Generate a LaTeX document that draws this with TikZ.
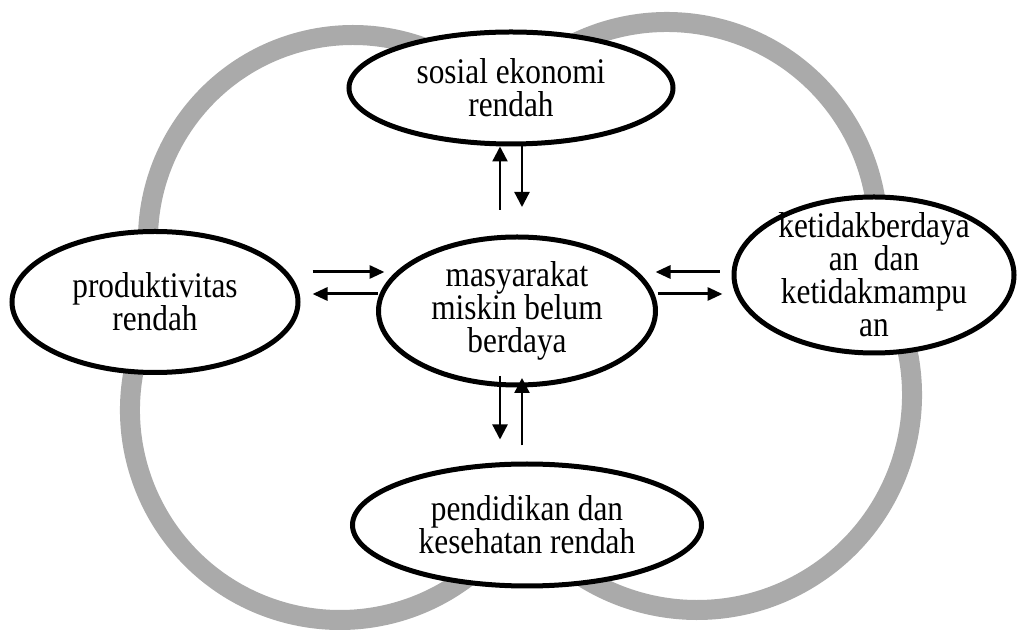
\documentclass[tikz,border=0pt]{standalone}
\usepackage{fontspec}
\setmainfont{Liberation Serif}[FakeStretch=0.87]
\usetikzlibrary{shapes.geometric,arrows.meta}
\definecolor{ringgray}{RGB}{170,170,170}
\begin{document}
\begin{tikzpicture}[x=1pt,y=1pt,
    oval/.style={ellipse,draw,line width=5pt,fill=white,inner sep=0pt,align=center,
                 font=\fontsize{36}{33}\selectfont},
    ring/.style={draw=ringgray,line width=20pt},
    varr/.style={line width=2.3pt,-{Triangle[length=15pt,width=15pt]}},
    harr/.style={line width=3pt,-{Triangle[length=15pt,width=13pt]}}]
    \useasboundingbox (0,0) rectangle (1017,629);
    % grey loops behind
    \draw[ring] (353,389) ++(190:205) arc[start angle=190,end angle=55,radius=205];
    \draw[ring] (667,396) ++(125:211) arc[start angle=125,end angle=5,radius=211];
    \draw[ring] (340,219) ++(165:210) arc[start angle=165,end angle=320,radius=210];
    \draw[ring] (697,234) ++(30:215) arc[start angle=30,end angle=-140,radius=215];
    \node[oval,minimum width=324,minimum height=112] (sosial) at (511,541) {sosial ekonomi\\rendah};
    \node[oval,minimum width=277,minimum height=148] (miskin) at (517,318) {masyarakat\\miskin belum\\berdaya};
    \node[oval,minimum width=286,minimum height=141] (produktif) at (155,327) {produktivitas\\rendah};
    \node[oval,minimum width=280,minimum height=156,inner ysep=-12pt] (daya) at (874,354)
          {ketidakberdaya\\an\ \ dan\\ketidakmampu\\an};
    \node[oval,minimum width=349,minimum height=122] (sehat) at (527,104) {pendidikan dan\\kesehatan rendah};
    \draw[varr] ([shift={(-17,24.5)}]miskin.north) -- ([xshift=-11pt]sosial.south);
    \draw[varr] ([xshift=11pt]sosial.south) -- ([shift={(5,27.5)}]miskin.north);
    \draw[varr] ([shift={(-17,11.5)}]miskin.south) -- ([shift={(-27,22)}]sehat.north);
    \draw[varr] ([shift={(-5,16)}]sehat.north) -- ([shift={(5,9.5)}]miskin.south);
    \draw[harr] ([shift={(12,30)}]produktif.east) -- ([shift={(8.5,39)}]miskin.west);
    \draw[harr] ([shift={(1.5,17)}]miskin.west) -- ([shift={(12,8)}]produktif.east);
    \draw[harr] ([shift={(-12,3)}]daya.west) -- ([shift={(-2.5,39)}]miskin.east);
    \draw[harr] ([shift={(-0.5,17)}]miskin.east) -- ([shift={(-9,-19)}]daya.west);
\end{tikzpicture}
\end{document}
